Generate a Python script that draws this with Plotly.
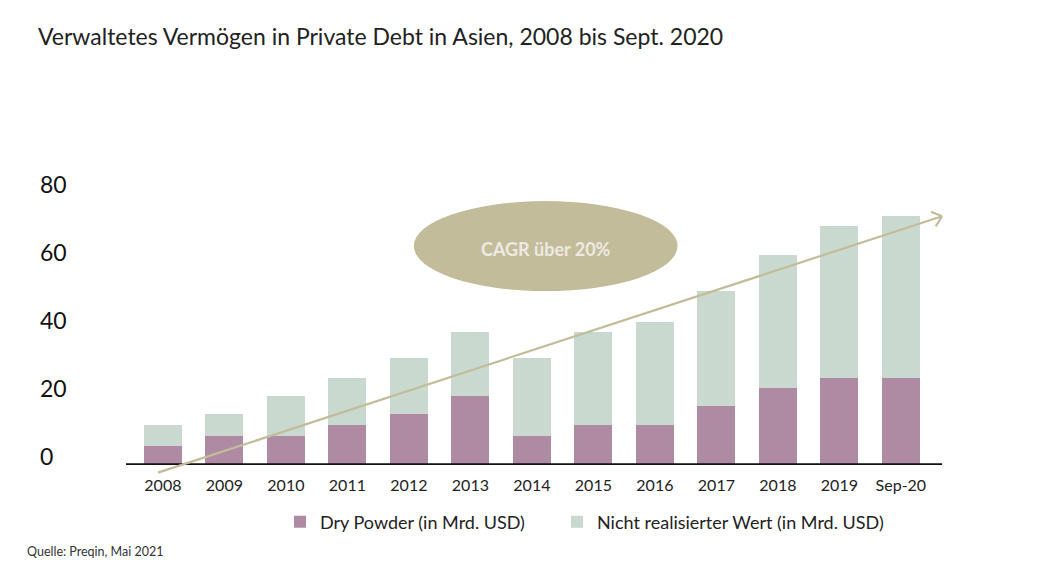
import math
import plotly.graph_objects as go

categories = ["2008", "2009", "2010", "2011", "2012", "2013", "2014",
              "2015", "2016", "2017", "2018", "2019", "Sep-20"]
dry_powder = [5.3, 8.2, 8.2, 11.5, 14.7, 20.0, 8.2, 11.5, 11.5, 17.1, 22.4, 25.3, 25.3]
totals = [11.5, 14.7, 20.0, 25.3, 31.2, 38.8, 31.2, 38.8, 41.8, 50.9, 61.5, 70.0, 72.9]
unrealized = [round(t - d, 1) for t, d in zip(totals, dry_powder)]
y_ticks = [0, 20, 40, 60, 80]
y_tick_labels = ["0", "20", "40", "60", "80"]

FONT = "Lato"
C_DRY = "#AE8BA3"
C_UNR = "#C9D9CF"
C_GOLD = "#C3BC9A"

W, H = 1047, 553           # page body has an 8px margin
ML, MR, MT, MB = 118, 108, 162, 87
X_RANGE = [-0.6, 12.75]
Y_RANGE = [-2.9, 86.5]
pw = W - ML - MR
ph = H - MT - MB
px_per_x = pw / (X_RANGE[1] - X_RANGE[0])
px_per_y = ph / (Y_RANGE[1] - Y_RANGE[0])


def fx(px):  # figure pixel x -> paper
    return (px - ML) / pw


def fy(py):  # figure pixel y (from top) -> paper
    return (H - MB - py) / ph


x_idx = list(range(len(categories)))

fig = go.Figure()
fig.add_trace(go.Bar(x=x_idx, y=dry_powder, name="Dry Powder (in Mrd. USD)",
                     marker=dict(color=C_DRY, line=dict(width=0)), width=0.62,
                     legend="legend", showlegend=True))
fig.add_trace(go.Bar(x=x_idx, y=unrealized, name="Nicht realisierter Wert (in Mrd. USD)",
                     marker=dict(color=C_UNR, line=dict(width=0)), width=0.62,
                     legend="legend2", showlegend=True))

shapes = []
shapes.append(dict(type="line", xref="x", yref="y", x0=X_RANGE[0], x1=12.67, y0=0, y1=0,
                   line=dict(color="#111111", width=1.6), layer="above"))
ax0, ay0, ax1, ay1 = -0.08, -2.5, 12.67, 72.9
shapes.append(dict(type="line", xref="x", yref="y", x0=ax0, y0=ay0, x1=ax1, y1=ay1,
                   line=dict(color=C_GOLD, width=2.2), layer="above"))
dxp = (ax1 - ax0) * px_per_x
dyp = (ay1 - ay0) * px_per_y
L = math.hypot(dxp, dyp)
ux, uy = -dxp / L, -dyp / L
arm = 12
for ang in (40, -40):
    a = math.radians(ang)
    rx = ux * math.cos(a) - uy * math.sin(a)
    ry = ux * math.sin(a) + uy * math.cos(a)
    shapes.append(dict(type="line", xref="x", yref="y", x0=ax1, y0=ay1,
                       x1=ax1 + rx * arm / px_per_x, y1=ay1 + ry * arm / px_per_y,
                       line=dict(color=C_GOLD, width=2.2), layer="above"))
shapes.append(dict(type="circle", xref="x", yref="y", x0=4.08, x1=8.37, y0=50.9, y1=77.35,
                   fillcolor=C_GOLD, line=dict(width=0), layer="above"))

annotations = []
annotations.append(dict(text="<b>CAGR über 20%</b>", xref="x", yref="y", x=6.23, y=63.3,
                        showarrow=False, font=dict(family=FONT, size=18, color="#ECEAE2")))
for v, lab in zip(y_ticks, y_tick_labels):
    annotations.append(dict(text=lab, xref="paper", yref="y", x=fx(30), y=v,
                            xanchor="left", yanchor="middle", yshift=8, showarrow=False,
                            font=dict(family=FONT, size=23, color="#111111")))
annotations.append(dict(text="Quelle: Preqin, Mai 2021", xref="paper", yref="paper",
                        x=fx(17), y=fy(543), xanchor="left", yanchor="middle",
                        showarrow=False, font=dict(family=FONT, size=12.5, color="#333333")))

legend_font = dict(family=FONT, size=18, color="#222222")
fig.update_layout(
    width=W, height=H,
    margin=dict(l=ML, r=MR, t=MT, b=MB),
    paper_bgcolor="white", plot_bgcolor="white",
    barmode="stack",
    showlegend=True,
    title=dict(text="Verwaltetes Vermögen in Private Debt in Asien, 2008 bis Sept. 2020",
               x=30 / W, xanchor="left", xref="container", y=1 - 29 / H, yanchor="middle",
               font=dict(family=FONT, size=23, color="#222222")),
    xaxis=dict(range=X_RANGE, tickmode="array", tickvals=x_idx, ticktext=categories,
               showgrid=False, zeroline=False, showline=False, ticks="",
               tickfont=dict(family=FONT, size=16, color="#222222")),
    yaxis=dict(range=Y_RANGE, showgrid=False, zeroline=False, showline=False,
               showticklabels=False, ticks=""),
    legend=dict(orientation="h", x=fx(272), xanchor="left", y=fy(514), yanchor="middle",
                font=legend_font, bgcolor="rgba(0,0,0,0)", visible=True),
    legend2=dict(orientation="h", x=fx(549), xanchor="left", y=fy(514), yanchor="middle",
                 font=legend_font, bgcolor="rgba(0,0,0,0)", visible=True),
    shapes=shapes, annotations=annotations,
)

fig.write_html("out.html")
